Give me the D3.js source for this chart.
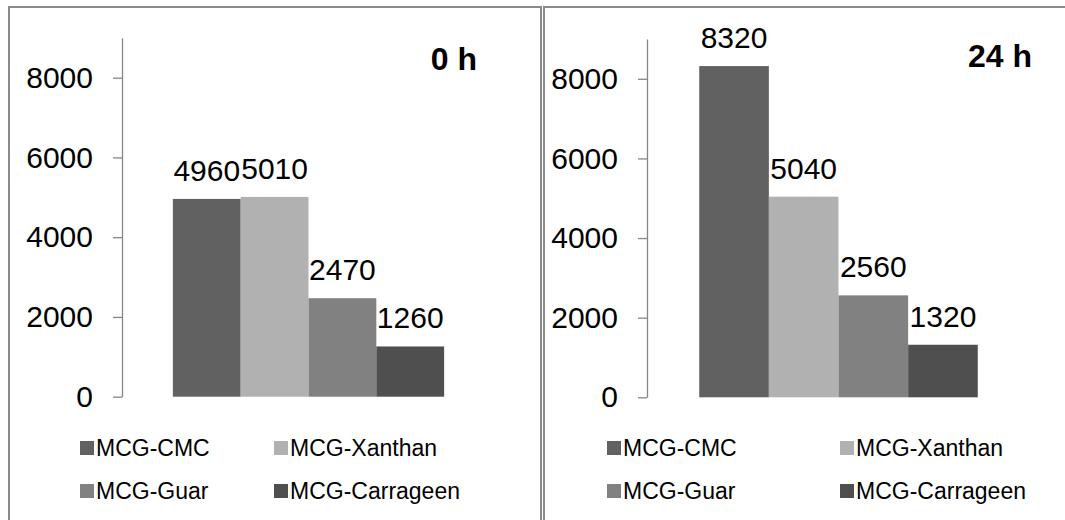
<!DOCTYPE html>
<html>
<head>
<meta charset="utf-8">
<title>MCG viscosity</title>
<script src="https://cdn.jsdelivr.net/npm/d3@7"></script>
<style>
    body { margin: 0; background: #fff; }
    svg { display: block; font-family: "Liberation Sans", Arial, sans-serif; }
    .axis path, .axis line { stroke: #868686; stroke-width: 1.3; }
    .axis text { font-size: 30px; fill: #000; }
    .val { font-size: 30px; fill: #000; text-anchor: middle; }
    .title { font-size: 32px; font-weight: bold; text-anchor: end; }
    .leg { font-size: 23px; fill: #000; }
</style>
</head>
<body>
<div id="chart"></div>
<script>
    // data
    const series = ["MCG-CMC", "MCG-Xanthan", "MCG-Guar", "MCG-Carrageen"]
    const colours = ["#616161", "#b1b1b1", "#818181", "#4f4f4f"]
    const times = ["0 h", "24 h"]
    const values0h = [4960, 5010, 2470, 1260]
    const values24h = [8320, 5040, 2560, 1320]
    const yTicks = [0, 2000, 4000, 6000, 8000]
    const yMax = 9000

    const width = 1065, height = 520

    // panel layout (frame, plot area, legend)
    const panels = [
        { title: times[0], values: values0h, frameX: 9, frameW: 532,
          axisX: 122, plotRight: 495, zeroY: 396.7, topY: 37.8,
          titleX: 477, titleY: 70, legX: [80, 274], legY: [456, 499] },
        { title: times[1], values: values24h, frameX: 544, frameW: 532,
          axisX: 647, plotRight: 1030, zeroY: 397.3, topY: 39,
          titleX: 1032, titleY: 67, legX: [607, 840], legY: [456, 499] }
    ]

    const svg = d3.select("#chart").append("svg")
        .attr("width", width)
        .attr("height", height)

    svg.append("rect").attr("width", width).attr("height", height).attr("fill", "#fff")

    const colour = d3.scaleOrdinal().domain(series).range(colours)

    panels.forEach(p => {
        const g = svg.append("g")

        // frame
        g.append("rect")
            .attr("x", p.frameX).attr("y", 7)
            .attr("width", p.frameW).attr("height", height)
            .attr("fill", "none")
            .attr("stroke", "#8a8a8a")
            .attr("stroke-width", 2)

        const y = d3.scaleLinear().domain([0, yMax]).range([p.zeroY, p.topY])

        // one category, gap width 150%
        const bw = (p.plotRight - p.axisX) / 5.5
        const cx = (p.axisX + p.plotRight) / 2
        const x = d3.scaleBand().domain(series).range([cx - 2 * bw, cx + 2 * bw])

        g.append("g")
            .attr("class", "axis")
            .attr("transform", "translate(" + p.axisX + ",0)")
            .call(d3.axisLeft(y).tickValues(yTicks).tickFormat(d3.format("d"))
                .tickSize(9).tickSizeOuter(0).tickPadding(20))
            .call(a => a.selectAll("text").attr("font-family", null).attr("font-size", null))

        const data = series.map((s, i) => ({ name: s, value: p.values[i] }))

        g.selectAll(".bar").data(data).join("rect")
            .attr("class", "bar")
            .attr("x", d => x(d.name))
            .attr("width", x.bandwidth())
            .attr("y", d => y(d.value))
            .attr("height", d => y(0) - y(d.value))
            .attr("fill", d => colour(d.name))

        g.selectAll(".val").data(data).join("text")
            .attr("class", "val")
            .attr("x", d => x(d.name) + x.bandwidth() / 2)
            .attr("y", d => y(d.value) - 18)
            .text(d => d.value)

        g.append("text")
            .attr("class", "title")
            .attr("x", p.titleX).attr("y", p.titleY)
            .text(p.title)

        // legend 2x2
        const leg = g.selectAll(".legItem").data(series).join("g")
            .attr("class", "legItem")
            .attr("transform", (d, i) => "translate(" + p.legX[i % 2] + "," + p.legY[Math.floor(i / 2)] + ")")
        leg.append("rect")
            .attr("y", -15).attr("width", 14).attr("height", 14)
            .attr("fill", d => colour(d))
        leg.append("text")
            .attr("class", "leg")
            .attr("x", 16)
            .text(d => d)
    })
</script>
</body>
</html>
